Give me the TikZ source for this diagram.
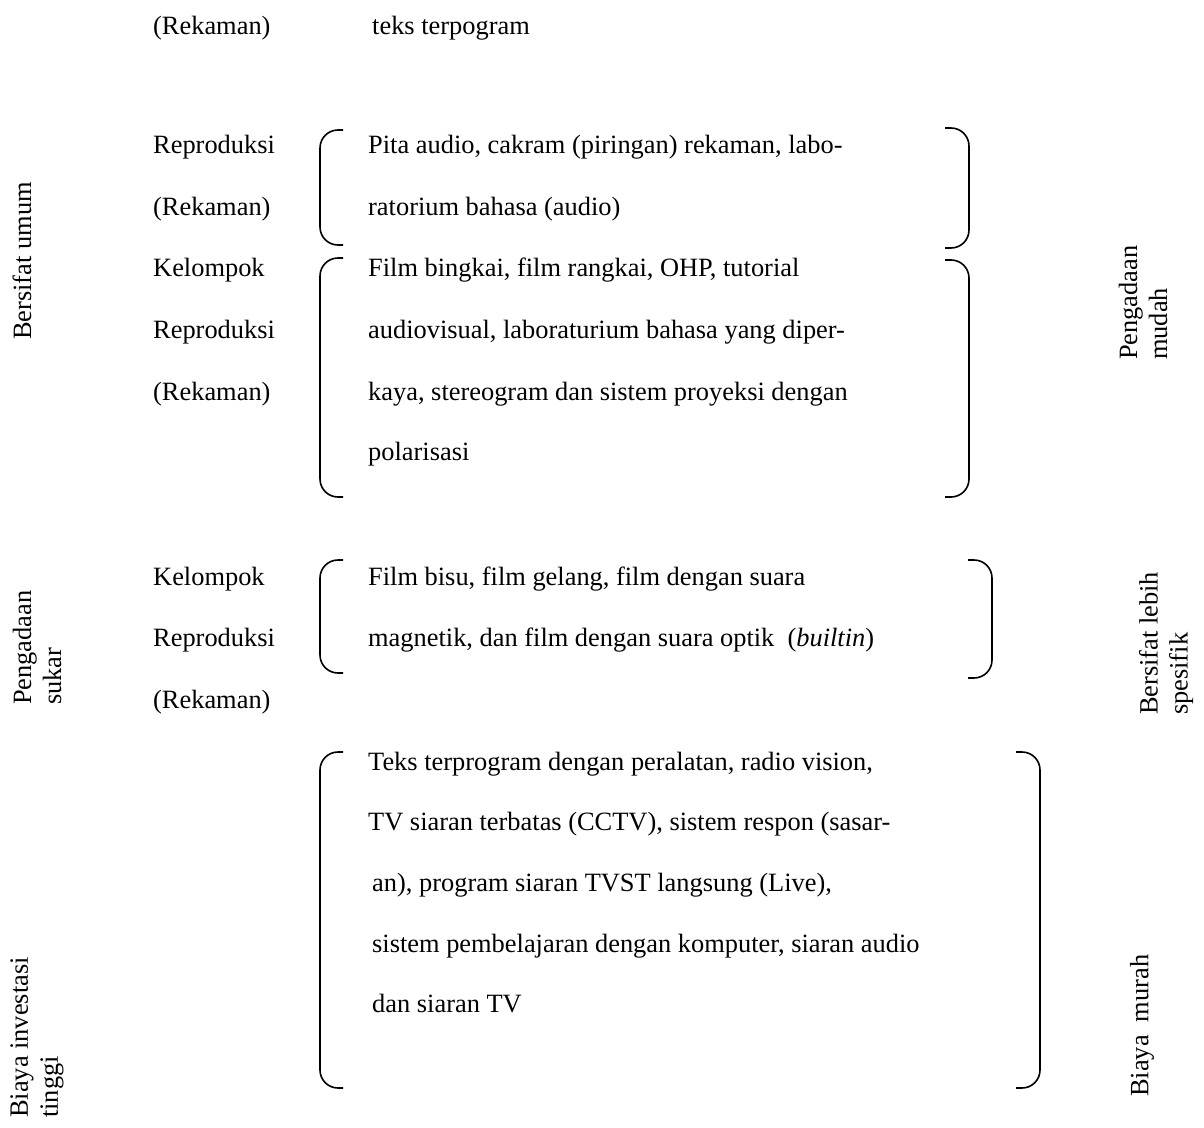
\documentclass[tikz,border=0pt]{standalone}
\usepackage{fontspec}
\setmainfont{Liberation Serif}
\usetikzlibrary{positioning}
\tikzset{
	isi/.style={
		anchor=base west,
		inner sep=0pt},
	kelompok/.style={
		anchor=base west,
		inner sep=0pt},
	sisi/.style={
		rotate=90,
		anchor=west,
		align=left,
		inner sep=0pt},
	kurung/.style={draw, line width=1.6pt, rounded corners=18pt},
}
\begin{document}
\begin{tikzpicture}
	[x=1pt, y=-1pt,
	font=\fontsize{26.4}{30}\selectfont]
	\useasboundingbox (0,0) rectangle (1204,1127);

	% baris atas
	\node[kelompok] (rek0) at (153,34) {(Rekaman)};
	\node[isi] (teks0) at (372,34) {teks terpogram};

	% kelompok kiri
	\node[kelompok] (rep1) at (153,153) {Reproduksi};
	\node[kelompok] (rek1) at (153,215) {(Rekaman)};
	\node[kelompok] (kel2) at (153,276) {Kelompok};
	\node[kelompok] (rep2) at (153,338) {Reproduksi};
	\node[kelompok] (rek2) at (153,400) {(Rekaman)};
	\node[kelompok] (kel3) at (153,585) {Kelompok};
	\node[kelompok] (rep3) at (153,646) {Reproduksi};
	\node[kelompok] (rek3) at (153,708) {(Rekaman)};

	% kurung 1
	\draw[kurung] (343,130) -- (320,130) -- (320,245) -- (343,245);
	\draw[kurung] (945,128) -- (969,128) -- (969,248) -- (945,248);
	\node[isi] (pita1) at (368,153) {Pita audio, cakram (piringan) rekaman, labo-};
	\node[isi] (pita2) at (368,215) {ratorium bahasa (audio)};

	% kurung 2
	\draw[kurung] (343,258) -- (320,258) -- (320,497) -- (343,497);
	\draw[kurung] (945,260) -- (969,260) -- (969,497) -- (945,497);
	\node[isi] (film1) at (368,276) {Film bingkai, film rangkai, OHP, tutorial};
	\node[isi] (film2) at (368,338) {audiovisual, laboraturium bahasa yang diper-};
	\node[isi] (film3) at (368,400) {kaya, stereogram dan sistem proyeksi dengan};
	\node[isi] (film4) at (368,460) {polarisasi};

	% kurung 3
	\draw[kurung] (343,560) -- (320,560) -- (320,673) -- (343,673);
	\draw[kurung] (968,560) -- (992,560) -- (992,678) -- (968,678);
	\node[isi] (bisu1) at (368,585) {Film bisu, film gelang, film dengan suara};
	\node[isi] (bisu2) at (368,646) {magnetik, dan film dengan suara optik~ (\textit{builtin})};

	% kurung 4
	\draw[kurung] (343,752) -- (320,752) -- (320,1088) -- (343,1088);
	\draw[kurung] (1016,752) -- (1040,752) -- (1040,1088) -- (1016,1088);
	\node[isi] (prog1) at (368,770) {Teks terprogram dengan peralatan, radio vision,};
	\node[isi] (prog2) at (368,830) {TV siaran terbatas (CCTV), sistem respon (sasar-};
	\node[isi] (prog3) at (372,891) {an), program siaran TVST langsung (Live),};
	\node[isi] (prog4) at (372,952) {sistem pembelajaran dengan komputer, siaran audio};
	\node[isi] (prog5) at (372,1012) {dan siaran TV};

	% keterangan samping
	\node[sisi] (umum) at (22,340) {Bersifat umum};
	\node[sisi] (mudah) at (1143,360) {Pengadaan\\mudah};
	\node[sisi] (sukar) at (37,705) {Pengadaan\\sukar};
	\node[sisi] (spesifik) at (1166,715) {Bersifat lebih\\spesifik};
	\node[sisi] (tinggi) at (37,1118) {Biaya investasi\\tinggi};
	\node[sisi] (murah) at (1142,1097) {Biaya~ murah};
\end{tikzpicture}
\end{document}
